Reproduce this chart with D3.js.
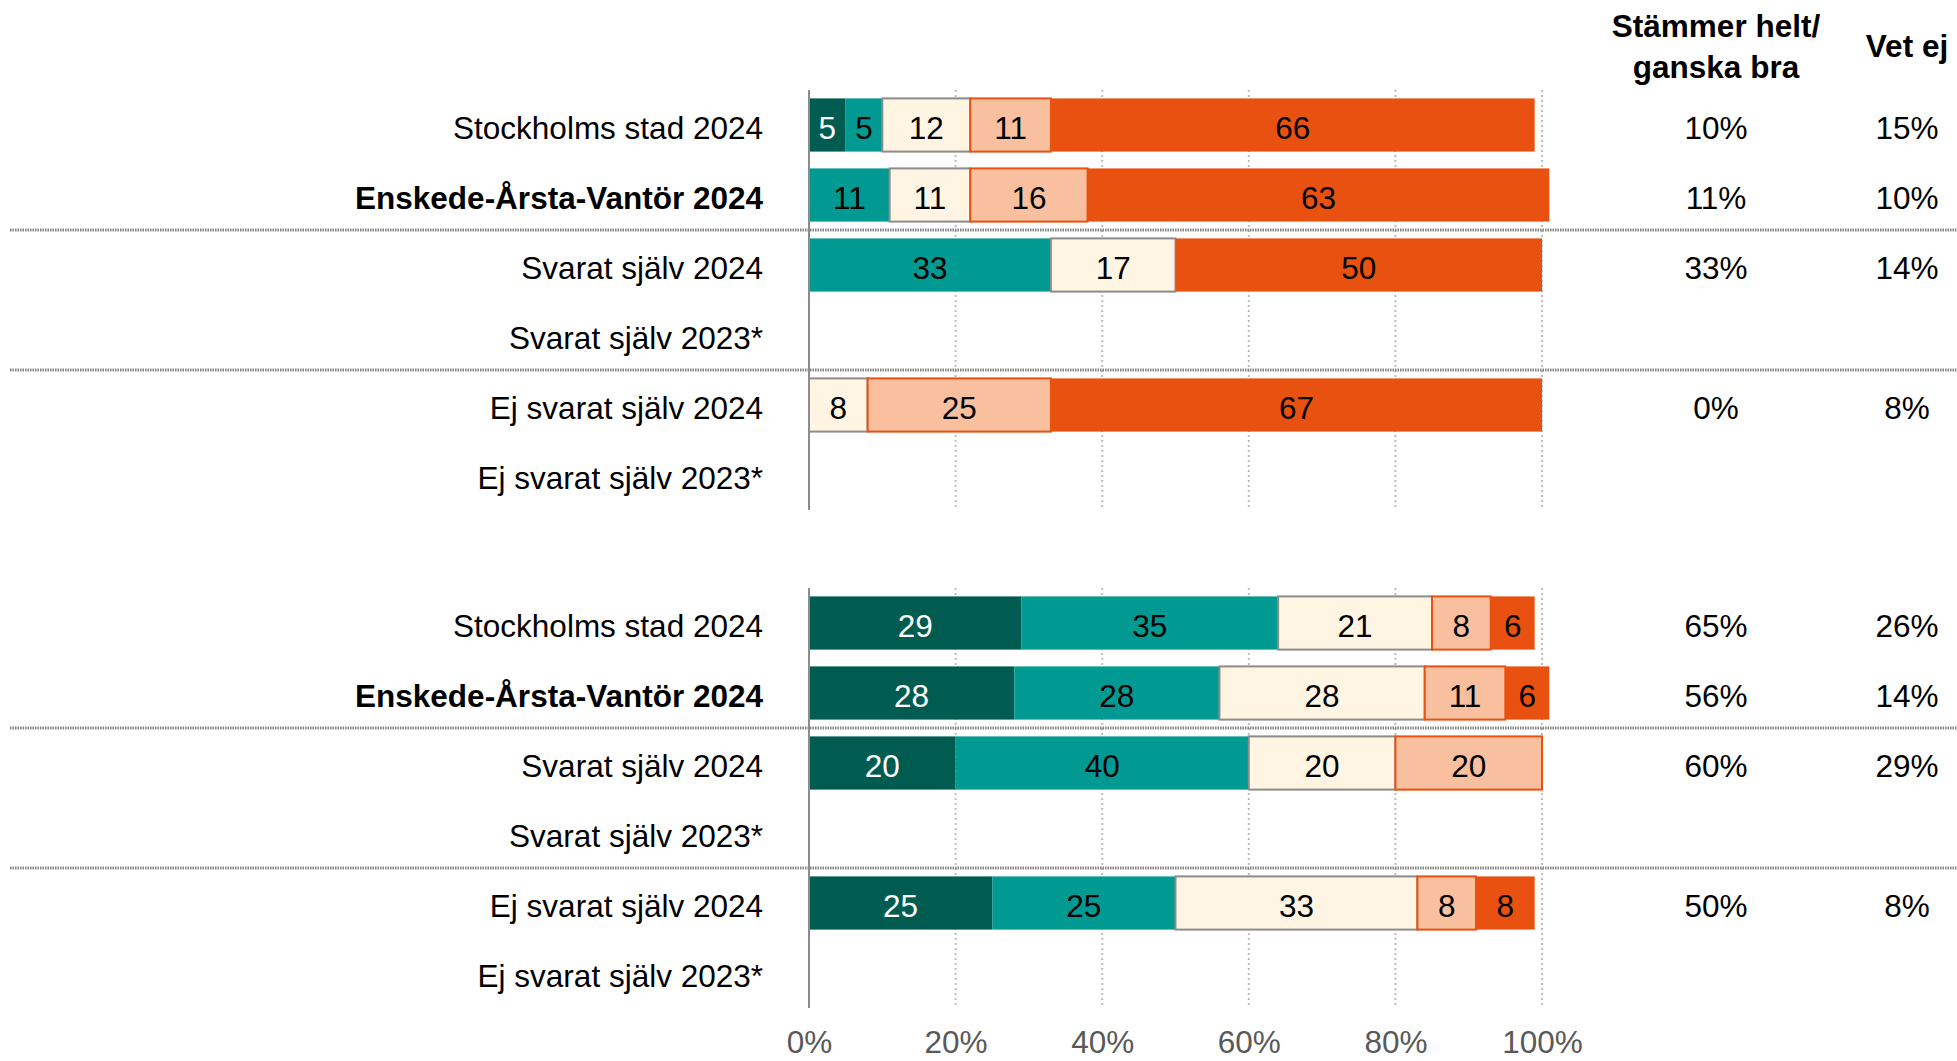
<!DOCTYPE html>
<html lang="sv">
<head>
<meta charset="utf-8">
<script src="https://cdn.jsdelivr.net/npm/d3@7"></script>
<style>
  html, body { margin: 0; padding: 0; background: #ffffff; }
  svg { display: block; font-family: "Liberation Sans", Arial, sans-serif; }
</style>
</head>
<body>
<svg id="chart" width="1957" height="1061"></svg>
<script>
// Row labels (shared by both panels)
const categories = [
  "Stockholms stad 2024",
  "Enskede-Årsta-Vantör 2024",
  "Svarat själv 2024",
  "Svarat själv 2023*",
  "Ej svarat själv 2024",
  "Ej svarat själv 2023*"
];
const boldCategory = "Enskede-Årsta-Vantör 2024";

// Response scale, in stacking order
const responseKeys = ["helt", "ganskaBra", "varken", "ganskaDaligt", "inteAlls"];

// Panel A – percent per response (null = no data)
const aHelt         = [5,  0,  0,  null, 0,  null];
const aGanskaBra    = [5,  11, 33, null, 0,  null];
const aVarken       = [12, 11, 17, null, 8,  null];
const aGanskaDaligt = [11, 16, 0,  null, 25, null];
const aInteAlls     = [66, 63, 50, null, 67, null];
const aHeltGanska   = ["10%", "11%", "33%", "", "0%", ""];
const aVetEj        = ["15%", "10%", "14%", "", "8%", ""];

// Panel B – percent per response
const bHelt         = [29, 28, 20, null, 25, null];
const bGanskaBra    = [35, 28, 40, null, 25, null];
const bVarken       = [21, 28, 20, null, 33, null];
const bGanskaDaligt = [8,  11, 20, null, 8,  null];
const bInteAlls     = [6,  6,  0,  null, 8,  null];
const bHeltGanska   = ["65%", "56%", "60%", "", "50%", ""];
const bVetEj        = ["26%", "14%", "29%", "", "8%", ""];

// Axis ticks
const tickValues = [0, 20, 40, 60, 80, 100];

// Right-hand column headers
const colHeaderA = ["Stämmer helt/", "ganska bra"];
const colHeaderB = "Vet ej";

// Styles
const fills   = { helt: "#005C50", ganskaBra: "#009A92", varken: "#FFF5E2", ganskaDaligt: "#F8C09E", inteAlls: "#E8510F" };
const strokes = { helt: "none", ganskaBra: "none", varken: "#8C8C8C", ganskaDaligt: "#E8510F", inteAlls: "none" };
const labelColor = { helt: "#ffffff", ganskaBra: "#000000", varken: "#000000", ganskaDaligt: "#000000", inteAlls: "#000000" };

const svg = d3.select("#chart");
const FONT = 31.5;
const DY = "0.43em";

const x = d3.scaleLinear().domain([0, 100]).range([809, 1542]);
const colX1 = 1716, colX2 = 1907;

function buildRows(h, gb, v, gd, ia) {
  return categories.map((c, i) => ({
    category: c,
    empty: h[i] === null,
    helt: h[i] || 0, ganskaBra: gb[i] || 0, varken: v[i] || 0,
    ganskaDaligt: gd[i] || 0, inteAlls: ia[i] || 0
  }));
}

function drawPanel(top, rows, colA, colB) {
  const y = d3.scaleBand()
    .domain(categories)
    .range([top, top + 6 * 70])
    .paddingInner(0.24)
    .paddingOuter(0.12);
  const step = y.step();
  const bottom = top + 6 * step;
  const g = svg.append("g");

  // dotted gridlines
  g.selectAll("line.grid")
    .data(tickValues.filter(t => t > 0))
    .join("line")
    .attr("x1", d => x(d)).attr("x2", d => x(d))
    .attr("y1", top).attr("y2", bottom)
    .attr("stroke", "#BDBDBD").attr("stroke-width", 2)
    .attr("stroke-dasharray", "2,3");

  // group separators
  g.selectAll("line.sep")
    .data([2, 4])
    .join("line")
    .attr("x1", 10).attr("x2", 1957)
    .attr("y1", d => top + d * step).attr("y2", d => top + d * step)
    .attr("stroke", "#858585").attr("stroke-width", 3)
    .attr("stroke-dasharray", "1.5,1");

  // stacked bars
  const series = d3.stack().keys(responseKeys)(rows);
  series.forEach(s => {
    const key = s.key;
    const segs = s.filter(d => !d.data.empty && (d[1] - d[0]) > 0);
    const sg = g.append("g");
    sg.selectAll("rect")
      .data(segs)
      .join("rect")
      .attr("x", d => x(d[0]))
      .attr("width", d => x(d[1]) - x(d[0]))
      .attr("y", d => y(d.data.category))
      .attr("height", y.bandwidth())
      .attr("fill", fills[key])
      .attr("stroke", strokes[key])
      .attr("stroke-width", 2);
    sg.selectAll("text")
      .data(segs)
      .join("text")
      .attr("x", d => (x(d[0]) + x(d[1])) / 2)
      .attr("y", d => y(d.data.category) + y.bandwidth() / 2)
      .attr("dy", DY)
      .attr("text-anchor", "middle")
      .attr("font-size", FONT)
      .attr("fill", labelColor[key])
      .text(d => d[1] - d[0]);
  });

  // value axis line at 0 %
  g.append("line")
    .attr("x1", x(0)).attr("x2", x(0))
    .attr("y1", top).attr("y2", bottom)
    .attr("stroke", "#8C8C8C").attr("stroke-width", 2);

  // category labels
  g.selectAll("text.cat")
    .data(categories)
    .join("text")
    .attr("class", "cat")
    .attr("x", 763)
    .attr("y", d => y(d) + y.bandwidth() / 2)
    .attr("dy", DY)
    .attr("text-anchor", "end")
    .attr("font-size", FONT)
    .attr("font-weight", d => d === boldCategory ? "bold" : "normal")
    .attr("fill", "#000")
    .text(d => d);

  // right-hand summary columns
  [[colA, colX1], [colB, colX2]].forEach(([vals, cx]) => {
    g.selectAll(null)
      .data(categories.map((c, i) => ({ c, v: vals[i] })).filter(d => d.v !== ""))
      .join("text")
      .attr("x", cx)
      .attr("y", d => y(d.c) + y.bandwidth() / 2)
      .attr("dy", DY)
      .attr("text-anchor", "middle")
      .attr("font-size", FONT)
      .attr("fill", "#000")
      .text(d => d.v);
  });

  return bottom;
}

drawPanel(90, buildRows(aHelt, aGanskaBra, aVarken, aGanskaDaligt, aInteAlls), aHeltGanska, aVetEj);
const panelBottom = drawPanel(588, buildRows(bHelt, bGanskaBra, bVarken, bGanskaDaligt, bInteAlls), bHeltGanska, bVetEj);

// percentage axis below the lower panel
const axis = d3.axisBottom(x)
  .tickValues(tickValues)
  .tickFormat(d => d + "%")
  .tickSize(0)
  .tickPadding(0);
const ax = svg.append("g")
  .attr("transform", `translate(0, ${panelBottom + 23})`)
  .call(axis);
ax.select(".domain").remove();
ax.selectAll("text")
  .attr("font-family", "'Liberation Sans', Arial, sans-serif")
  .attr("font-size", FONT)
  .attr("fill", "#595959");

// column headers
const hdr = svg.append("g")
  .attr("font-size", FONT)
  .attr("font-weight", "bold")
  .attr("text-anchor", "middle")
  .attr("fill", "#000");
hdr.selectAll("text.h1")
  .data(colHeaderA)
  .join("text")
  .attr("x", colX1)
  .attr("y", (d, i) => 37 + i * 41)
  .text(d => d);
hdr.append("text")
  .attr("x", colX2)
  .attr("y", 57)
  .text(colHeaderB);
</script>
</body>
</html>
